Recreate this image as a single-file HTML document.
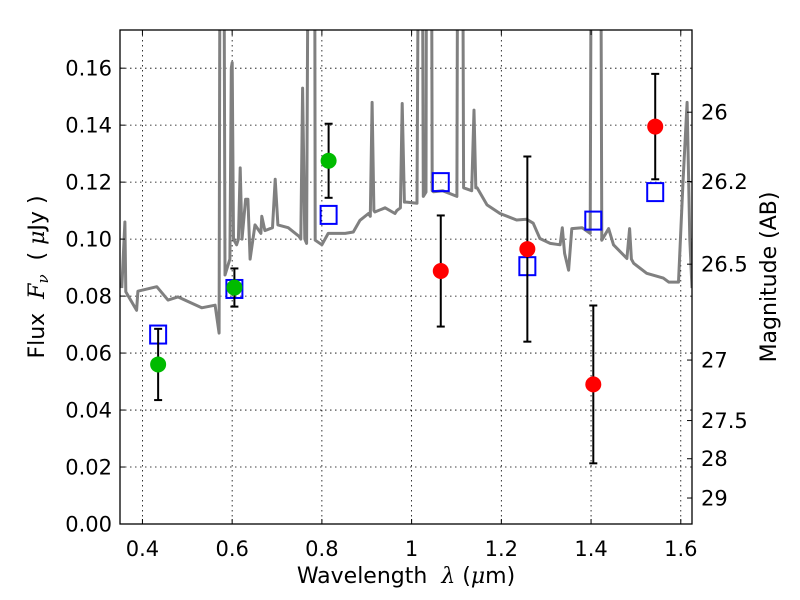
<!DOCTYPE html>
<html><head><meta charset="utf-8">
<style>
html,body{margin:0;padding:0;background:#fff;}
svg{display:block;font-family:"DejaVu Sans","Liberation Sans",sans-serif;}
text{white-space:pre;}
</style></head>
<body>
<svg id="chart" width="800" height="600" viewBox="0 0 800 600" xmlns="http://www.w3.org/2000/svg">
<rect x="0" y="0" width="800" height="600" fill="#fff"/>
<g id="grid"></g>
<g id="clipwrap"><defs><clipPath id="pc"><rect x="120" y="30" width="572" height="494"/></clipPath></defs></g>
<g id="series" clip-path="url(#pc)"></g>
<rect x="120" y="30" width="572" height="494" fill="none" stroke="#000" stroke-width="1.3"/>
<g id="axes"></g>
<text x="406" y="583" font-size="22" text-anchor="middle" xml:space="preserve">Wavelength  <tspan font-style="italic" font-family="DejaVu Serif, serif">λ</tspan> (<tspan font-style="italic" font-family="DejaVu Serif, serif">μ</tspan>m)</text>
<text transform="translate(44,277) rotate(-90)" font-size="22" text-anchor="middle" xml:space="preserve">Flux  <tspan font-style="italic" font-family="DejaVu Serif, serif">F<tspan font-size="15" dy="4">ν</tspan></tspan><tspan dy="-4">  ( </tspan><tspan font-style="italic" font-family="DejaVu Serif, serif">μ</tspan>Jy )</text>
<text transform="translate(776,277) rotate(-90)" font-size="22" text-anchor="middle">Magnitude (AB)</text>
</svg>
<script>
const specLambda=[0.354,0.361,0.363,0.387,0.39,0.432,0.457,0.479,0.532,0.562,0.571,0.574,0.577,0.580,0.584,0.595,0.598,0.600,0.603,0.610,0.614,0.618,0.622,0.630,0.635,0.640,0.651,0.664,0.666,0.673,0.690,0.696,0.702,0.725,0.749,0.753,0.757,0.762,0.766,0.772,0.775,0.780,0.783,0.785,0.80,0.814,0.852,0.87,0.885,0.904,0.908,0.912,0.916,0.918,0.941,0.963,0.967,0.975,0.979,0.984,0.989,1.012,1.018,1.022,1.026,1.032,1.034,1.038,1.043,1.046,1.049,1.069,1.101,1.104,1.108,1.112,1.116,1.134,1.139,1.143,1.146,1.168,1.197,1.234,1.256,1.271,1.286,1.309,1.331,1.336,1.341,1.350,1.357,1.380,1.398,1.402,1.404,1.418,1.420,1.424,1.439,1.450,1.480,1.486,1.490,1.495,1.524,1.561,1.573,1.595,1.605,1.614,1.620,1.625];
const specFlux=[0.0828,0.106,0.0815,0.075,0.0817,0.0833,0.0786,0.0797,0.0759,0.0768,0.067,0.30,0.30,0.30,0.0874,0.093,0.16,0.162,0.10,0.098,0.10,0.125,0.10,0.114,0.114,0.093,0.105,0.102,0.108,0.103,0.104,0.121,0.105,0.104,0.101,0.10,0.153,0.10,0.0985,0.30,0.30,0.30,0.30,0.0996,0.098,0.102,0.102,0.1025,0.1066,0.109,0.108,0.148,0.11,0.1095,0.111,0.109,0.11,0.111,0.1476,0.113,0.113,0.1126,0.30,0.30,0.115,0.1165,0.30,0.30,0.30,0.117,0.1166,0.117,0.115,0.30,0.30,0.30,0.118,0.117,0.1453,0.118,0.118,0.112,0.109,0.1067,0.107,0.1056,0.1002,0.0985,0.098,0.104,0.095,0.0891,0.1037,0.104,0.102,0.30,0.30,0.30,0.30,0.0996,0.1037,0.098,0.0932,0.1037,0.093,0.0915,0.088,0.0863,0.0849,0.0849,0.12,0.148,0.10,0.0828];
const photLambda=[0.435,0.605,0.815];
const photFlux=[0.056,0.083,0.1275];
const photErr=[0.0125,0.0067,0.013];
const redLambda=[1.065,1.258,1.405,1.543];
const redFlux=[0.0888,0.0965,0.049,0.1395];
const redErr=[0.0195,0.0325,0.0277,0.0185];
const modelLambda=[0.435,0.605,0.815,1.065,1.258,1.405,1.543];
const modelFlux=[0.0665,0.0825,0.1085,0.120,0.0905,0.1065,0.1165];
const xTicks=[0.4,0.6,0.8,1.0,1.2,1.4,1.6];
const xTickLabels=["0.4","0.6","0.8","1","1.2","1.4","1.6"];
const yTicks=[0,0.02,0.04,0.06,0.08,0.10,0.12,0.14,0.16];
const yTickLabels=["0.00","0.02","0.04","0.06","0.08","0.10","0.12","0.14","0.16"];
const magTicks=[26,26.2,26.5,27,27.5,28,29];
const magTickLabels=["26","26.2","26.5","27","27.5","28","29"];

const X0=120,X1=692,Y0=524,Y1=30,XMIN=0.35,XMAX=1.625,YMIN=0,YMAX=0.1734;
const xs=v=>X0+(v-XMIN)/(XMAX-XMIN)*(X1-X0);
const ys=v=>Y0-(v-YMIN)/(YMAX-YMIN)*(Y0-Y1);
const magToFlux=m=>Math.pow(10,(23.9-m)/2.5);
const NS="http://www.w3.org/2000/svg";
function mk(parent,tag,attrs){const e=document.createElementNS(NS,tag);for(const k in attrs)e.setAttribute(k,attrs[k]);parent.appendChild(e);return e;}
const grid=document.getElementById('grid'),ser=document.getElementById('series'),ax=document.getElementById('axes');

xTicks.forEach((t,i)=>{
  const x=xs(t);
  const g=mk(grid,'line',{x1:x,x2:x,y1:Y1,y2:Y0,stroke:'#000','stroke-width':0.8,'stroke-dasharray':'1.5,3.5'});
  
  
  mk(ax,'line',{x1:x,x2:x,y1:Y0,y2:Y0-5,stroke:'#000','stroke-width':1});
  mk(ax,'line',{x1:x,x2:x,y1:Y1,y2:Y1+5,stroke:'#000','stroke-width':1});
  const tx=mk(ax,'text',{x:x,y:556,'font-size':21,'text-anchor':'middle'});
  tx.textContent=xTickLabels[i];
  
  
});
yTicks.forEach((t,i)=>{
  const y=ys(t);
  if(t>0){const g=mk(grid,'line',{x1:X0,x2:X1,y1:y,y2:y,stroke:'#000','stroke-width':0.8,'stroke-dasharray':'1.5,3.5'});
  
  }
  mk(ax,'line',{x1:X0,x2:X0+5,y1:y,y2:y,stroke:'#000','stroke-width':1});
  const tx=mk(ax,'text',{x:112,y:y+7.5,'font-size':21,'text-anchor':'end'});
  tx.textContent=yTickLabels[i];
  
  
});
magTicks.forEach((m,i)=>{
  const y=ys(magToFlux(m));
  mk(ax,'line',{x1:X1,x2:X1-5,y1:y,y2:y,stroke:'#000','stroke-width':1});
  const tx=mk(ax,'text',{x:701,y:y+7.5,'font-size':21,'text-anchor':'start'});
  tx.textContent=magTickLabels[i];
  
  
});

const pts=specLambda.map((l,i)=>xs(l).toFixed(1)+','+ys(specFlux[i]).toFixed(1)).join(' ');
const sp=mk(ser,'polyline',{points:pts,fill:'none',stroke:'#808080','stroke-width':3,'stroke-linejoin':'round'});



modelLambda.forEach((l,i)=>{
  const r=mk(ser,'rect',{x:xs(l)-8,y:ys(modelFlux[i])-9,width:16,height:18,fill:'none',stroke:'#0000ff','stroke-width':2});
  
  
});
function errbar(l,f,e,color,name){
  const x=xs(l),yt=ys(f+e),yb=ys(f-e);
  mk(ser,'line',{x1:x,x2:x,y1:yt,y2:yb,stroke:'#000','stroke-width':2});
  mk(ser,'line',{x1:x-4,x2:x+4,y1:yt,y2:yt,stroke:'#000','stroke-width':2});
  mk(ser,'line',{x1:x-4,x2:x+4,y1:yb,y2:yb,stroke:'#000','stroke-width':2});
  const c=mk(ser,'circle',{cx:x,cy:ys(f),r:8,fill:color});
  
  
}
photLambda.forEach((l,i)=>errbar(l,photFlux[i],photErr[i],'#00bb00','green-photometry-point'));
redLambda.forEach((l,i)=>errbar(l,redFlux[i],redErr[i],'#ff0000','red-photometry-point'));
</script>
</body></html>
